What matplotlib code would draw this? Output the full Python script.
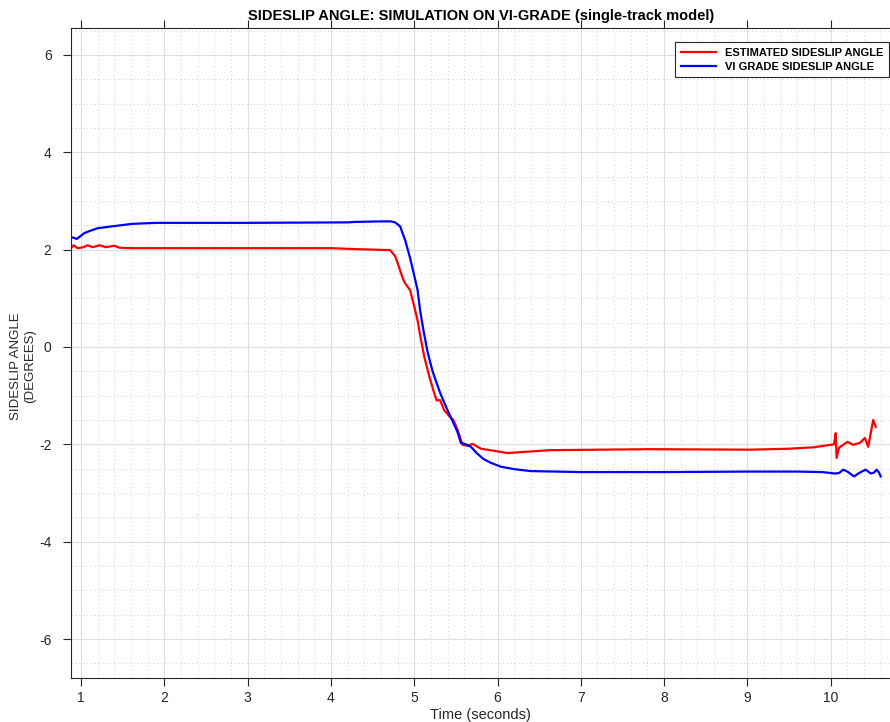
import matplotlib.pyplot as plt
from matplotlib.ticker import MultipleLocator

plt.rcParams['font.family'] = ['Liberation Sans Narrow', 'Liberation Sans', 'DejaVu Sans']
plt.rcParams['axes.unicode_minus'] = False

# Sideslip data (time in s, angle in degrees)

t_vi = [0.88, 0.95, 1.04, 1.1, 1.2, 1.38, 1.62, 1.9, 3.0, 4.2, 4.3, 4.6, 4.72,
        4.77, 4.83, 4.89, 4.95, 4.99, 5.04, 5.07, 5.11, 5.16, 5.22, 5.31, 5.4,
        5.47, 5.52, 5.56, 5.62, 5.68, 5.75, 5.83, 5.92, 6.04, 6.2, 6.4, 7.0,
        8.0, 9.0, 9.6, 9.9, 10.05, 10.1, 10.15, 10.2, 10.28, 10.35, 10.42,
        10.48, 10.52, 10.55, 10.58, 10.6]
beta_vi = [2.26, 2.22, 2.34, 2.38, 2.44, 2.48, 2.53, 2.55, 2.55, 2.56, 2.57,
           2.58, 2.58, 2.56, 2.48, 2.2, 1.83, 1.54, 1.17, 0.76, 0.35, -0.1,
           -0.5, -0.94, -1.3, -1.56, -1.75, -1.97, -2.0, -2.05, -2.18, -2.3,
           -2.38, -2.46, -2.51, -2.55, -2.57, -2.57, -2.56, -2.56, -2.57,
           -2.6, -2.59, -2.52, -2.56, -2.66, -2.58, -2.52, -2.6, -2.58, -2.52,
           -2.58, -2.66]

t_est = [0.88, 0.91, 0.96, 1.03, 1.08, 1.14, 1.22, 1.3, 1.4, 1.46, 1.6, 2.0,
         3.0, 4.0, 4.3, 4.71, 4.77, 4.81, 4.86, 4.89, 4.95, 4.99, 5.04, 5.07,
         5.12, 5.18, 5.24, 5.27, 5.31, 5.36, 5.43, 5.47, 5.52, 5.58, 5.64, 5.7,
         5.8, 5.95, 6.12, 6.28, 6.64, 7.84, 9.04, 9.5, 9.8, 10.0, 10.04, 10.06,
         10.07, 10.1, 10.2, 10.27, 10.35, 10.41, 10.45, 10.51, 10.54]
beta_est = [2.03, 2.09, 2.03, 2.05, 2.09, 2.05, 2.09, 2.05, 2.08, 2.04, 2.03,
            2.03, 2.03, 2.03, 2.01, 1.99, 1.87, 1.68, 1.42, 1.31, 1.17, 0.9,
            0.55, 0.25, -0.2, -0.6, -0.95, -1.1, -1.09, -1.3, -1.44, -1.5,
            -1.7, -2.01, -2.03, -1.99, -2.09, -2.13, -2.18, -2.16, -2.12, -2.1,
            -2.11, -2.09, -2.06, -2.01, -2.0, -1.77, -2.28, -2.07, -1.95, -2.01,
            -1.97, -1.87, -2.05, -1.5, -1.64]

fig = plt.figure(figsize=(8.9, 7.22), dpi=100)
ax = fig.add_axes([0.0798, 0.061, 0.921, 0.9])

ax.plot(t_est, beta_est, color='#ff0000', linewidth=1.6, label='ESTIMATED SIDESLIP ANGLE')
ax.plot(t_vi, beta_vi, color='#0000ff', linewidth=1.6, label='VI GRADE SIDESLIP ANGLE')

ax.set_xlim(0.88, 10.72)
ax.set_ylim(-6.8, 6.55)
ax.xaxis.set_major_locator(MultipleLocator(1))
ax.xaxis.set_minor_locator(MultipleLocator(0.2))
ax.yaxis.set_major_locator(MultipleLocator(2))
ax.yaxis.set_minor_locator(MultipleLocator(0.5))

ax.grid(which='major', color='#dedede', linestyle='-', linewidth=0.8)
ax.grid(which='minor', color='#cccccc', linestyle=(0, (1, 3)), linewidth=0.7)
ax.set_axisbelow(True)

ax.tick_params(which='major', direction='out', length=6, width=0.8, colors='#262626',
               labelsize=10, top=True, right=True)
ax.tick_params(axis='y', which='major', pad=8)
ax.tick_params(which='minor', length=0, top=True, right=True)
for s in ax.spines.values():
    s.set_color('#262626')
    s.set_linewidth(0.8)

ax.set_xlabel('Time (seconds)', fontsize=10.5, color='#262626', labelpad=2)
ax.set_ylabel('SIDESLIP ANGLE\n(DEGREES)', fontsize=9.5, color='#262626')
ax.yaxis.set_label_coords(-0.043, 0.48)
ax.set_title('SIDESLIP ANGLE: SIMULATION ON VI-GRADE (single-track model)',
             fontsize=10.5, fontweight='bold', pad=6)

leg = ax.legend(loc='upper right', bbox_to_anchor=(0.998, 0.978), borderaxespad=0,
                fancybox=False, framealpha=1, edgecolor='#262626',
                prop={'weight': 'bold', 'size': 8}, handlelength=3.2,
                borderpad=0.5, labelspacing=0.35)
leg.get_frame().set_linewidth(0.8)

plt.savefig('out.png', dpi=100)
